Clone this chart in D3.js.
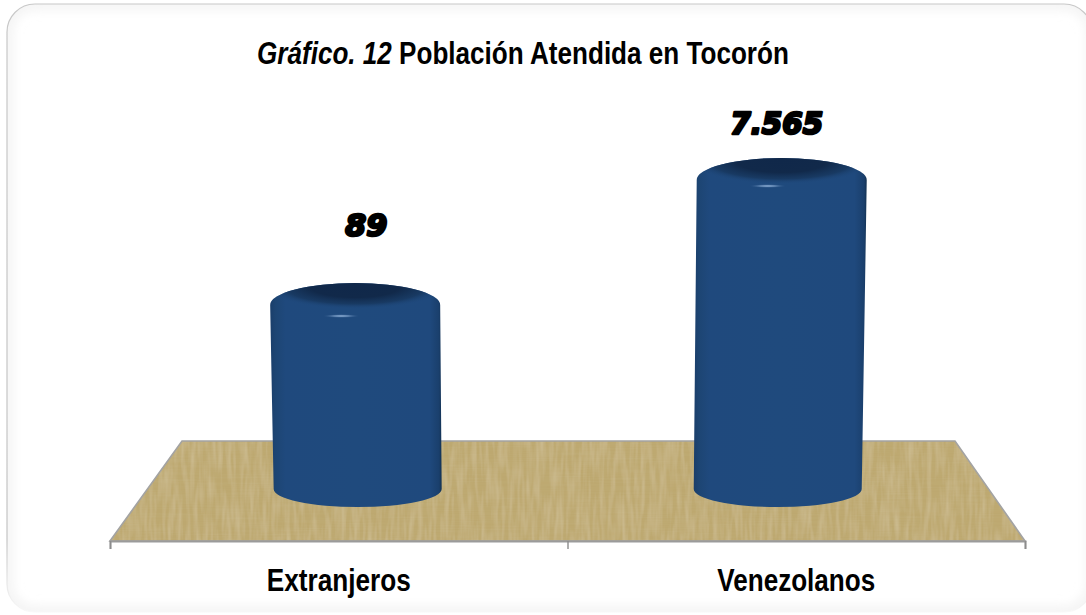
<!DOCTYPE html>
<html><head><meta charset="utf-8">
<script src="https://cdn.jsdelivr.net/npm/d3@7"></script>
<style>html,body{margin:0;padding:0;background:#fff}svg{display:block}</style>
</head><body><svg id="c" width="1086" height="615"></svg>
<script>
const categories = ["Extranjeros", "Venezolanos"];
const values = [89, 7565];
const valueLabels = ["89", "7.565"];
const titleItalic = "Gráfico. 12";
const titleBold = " Población Atendida en Tocorón";

const svg = d3.select("#c");
const defs = svg.append("defs");

// frame
const frameGrad = defs.append("linearGradient").attr("id","frameG").attr("x1",0).attr("y1",0).attr("x2",0).attr("y2",1);
[[0,"#c8c8c8"],[0.88,"#c4c4c4"],[0.95,"#e6e6e6"],[1,"#f8f8f8"]].forEach(s=>frameGrad.append("stop").attr("offset",s[0]).attr("stop-color",s[1]));
defs.append("clipPath").attr("id","frameClip").append("rect").attr("x",7).attr("y",4).attr("width",1085).attr("height",608).attr("rx",28);
const glow = defs.append("filter").attr("id","glow").attr("x","-5%").attr("y","-5%").attr("width","110%").attr("height","110%");
glow.append("feGaussianBlur").attr("stdDeviation",6);
svg.append("g").attr("clip-path","url(#frameClip)").append("rect").attr("x",7).attr("y",4).attr("width",1085).attr("height",608).attr("rx",28)
  .attr("fill","none").attr("stroke","#ececec").attr("stroke-width",7).attr("filter","url(#glow)");
svg.append("rect").attr("x",7).attr("y",4).attr("width",1085).attr("height",608).attr("rx",28)
  .attr("fill","none").attr("stroke","url(#frameG)").attr("stroke-width",1.2);

// scales: the floor is a trapezoid, front and back edges carry the same bands
const frontL = 110, frontR = 1025, backL = 182, backR = 955, floorFront = 541, floorBack = 441;
const depth = 0.45;
const xAxisBand = d3.scaleBand().domain(categories).range([frontL, frontR]);
const xBars = d3.scaleBand().domain(categories)
  .range([frontL + (backL-frontL)*depth, frontR + (backR-frontR)*depth]);
const yBase = 489;
const y = d3.scaleLog().domain([89, 7565]).range([305, 180]);
const halfW = 85;

// wood floor
const wood = defs.append("filter").attr("id","wood").attr("x",0).attr("y",0).attr("width","100%").attr("height","100%");
wood.append("feTurbulence").attr("type","fractalNoise").attr("baseFrequency","0.015 0.7").attr("numOctaves",2).attr("seed",4).attr("result","h");
wood.append("feColorMatrix").attr("in","h").attr("type","matrix")
  .attr("values","0 0 0 0 0.55  0 0 0 0 0.45  0 0 0 0 0.22  0.6 0 0 0 -0.22").attr("result","hc");
wood.append("feTurbulence").attr("type","fractalNoise").attr("baseFrequency","0.22 0.03").attr("numOctaves",2).attr("seed",9).attr("result","v");
wood.append("feColorMatrix").attr("in","v").attr("type","matrix")
  .attr("values","0 0 0 0 0.82  0 0 0 0 0.74  0 0 0 0 0.55  0.5 0 0 0 -0.18").attr("result","vc");
wood.append("feFlood").attr("flood-color","#bda86f").attr("result","base");
const m = wood.append("feMerge").attr("result","wm");
["base","hc","vc"].forEach(n=>m.append("feMergeNode").attr("in",n));
wood.append("feComposite").attr("in","wm").attr("in2","SourceAlpha").attr("operator","in");

const floorPts = [[backL,floorBack],[backR,floorBack],[frontR,floorFront],[frontL,floorFront]];
const floorLine = d3.line();
svg.append("path").attr("d",floorLine(floorPts)+"Z").attr("fill","#bda86f").attr("filter","url(#wood)");
svg.append("path").attr("d",floorLine(floorPts)+"Z").attr("fill","none").attr("stroke","#a3a3a3").attr("stroke-width",1.6);

// axis
const tickScale = d3.scaleLinear().domain([0, categories.length]).range([frontL, frontR]);
const axisTicks = svg.append("g").attr("transform",`translate(0,${floorFront})`)
  .call(d3.axisBottom(tickScale).ticks(categories.length).tickSize(8).tickFormat(""));
axisTicks.selectAll("path").attr("stroke","#9b9b9b").attr("stroke-width",2);
axisTicks.selectAll("line").attr("stroke","#8c8c8c").attr("stroke-width",1.4);

const labelAxis = d3.axisBottom(xAxisBand).tickSize(0).tickPadding(0);
const axisG = svg.append("g").attr("transform","translate(0,591)").call(labelAxis);
axisG.select("path").remove();
const labelWidths = [144, 158];
axisG.selectAll("text").each(function(d,i){
  const t = d3.select(this).attr("y",0).attr("dy",0).attr("x",0)
    .attr("font-family","'Liberation Sans',Arial,sans-serif").attr("font-weight",700)
    .attr("font-size",32).attr("fill","#000").attr("text-anchor","middle");
  const s = labelWidths[i] / t.node().getComputedTextLength();
  t.attr("transform",`scale(${s},1)`);
});

// gradients
const bodyG = defs.append("linearGradient").attr("id","body").attr("x1",0).attr("x2",1).attr("y1",0).attr("y2",0);
[[0,"#1a3e6a"],[0.03,"#1d4573"],[0.09,"#1f497d"],[0.5,"#1f4a7d"],[0.93,"#1f497d"],[0.985,"#1a3f6c"],[1,"#12304f"]]
  .forEach(s=>bodyG.append("stop").attr("offset",s[0]).attr("stop-color",s[1]));
const topG = defs.append("radialGradient").attr("id","topG");
[[0,"#10284a"],[0.5,"#11294a"],[0.78,"#17375e",0.85],[1,"#1f497d",0]].forEach(s=>topG.append("stop").attr("offset",s[0]).attr("stop-color",s[1]).attr("stop-opacity",s[2]===undefined?1:s[2]));
const hiG = defs.append("radialGradient").attr("id","hiG");
[[0,"#9dbce0",1],[0.45,"#6f94bf",0.7],[1,"#1f497d",0]].forEach(s=>hiG.append("stop").attr("offset",s[0]).attr("stop-color",s[1]).attr("stop-opacity",s[2]));

// cylinders
const domeH = 22, bottomRy = 18;
const leans = [2.5, -4];
const bars = svg.selectAll("g.bar").data(categories).join("g").attr("class","bar");
bars.each(function(c,i){
  const g = d3.select(this);
  const cx = xBars(c)+xBars.bandwidth()/2 + (i?1:0);
  const sh = y(values[i]);
  const top = sh - domeH;
  const cb = cx + leans[i], hb = halfW - 1;
  const d = `M${cb-hb},${yBase} A${hb},${bottomRy} 0 0 0 ${cb+hb},${yBase} L${cx+halfW},${sh} A${halfW},${domeH} 0 0 0 ${cx-halfW},${sh} Z`;
  const id = "cl"+i;
  defs.append("clipPath").attr("id",id).append("path").attr("d",d);
  g.append("path").attr("d",d).attr("fill","url(#body)");
  const inner = g.append("g").attr("clip-path",`url(#${id})`);
  inner.append("ellipse").attr("cx",cx).attr("cy",top+3).attr("rx",halfW+6).attr("ry",23).attr("fill","url(#topG)");
  g.append("ellipse").attr("cx",cx-14).attr("cy",sh+(i?6:11)).attr("rx",19).attr("ry",2).attr("fill","url(#hiG)");
  // value label
  const t = g.append("text").text(valueLabels[i])
    .attr("font-family","'DejaVu Sans',sans-serif").attr("font-weight",700).attr("font-style","italic")
    .attr("font-size",31).attr("fill","#000").attr("stroke","#000").attr("stroke-width",2.6)
    .attr("stroke-linejoin","round").attr("text-anchor","middle");
  const lx = i ? cx-5 : cx+11, ly = top - (i ? 24 : 47);
  const s = (i ? 93 : 42) / t.node().getComputedTextLength();
  t.attr("transform",`translate(${lx},${ly}) scale(${s},1)`);
});

// title
const title = svg.append("text").attr("font-family","'Liberation Sans',Arial,sans-serif").attr("font-weight",700)
  .attr("font-size",32).attr("fill","#000").attr("text-anchor","start").style("white-space","pre");
title.append("tspan").attr("font-style","italic").text(titleItalic);
title.append("tspan").text(titleBold);
const ts = 532 / title.node().getComputedTextLength();
title.attr("transform",`translate(257,64) scale(${ts},1)`);
</script></body></html>
